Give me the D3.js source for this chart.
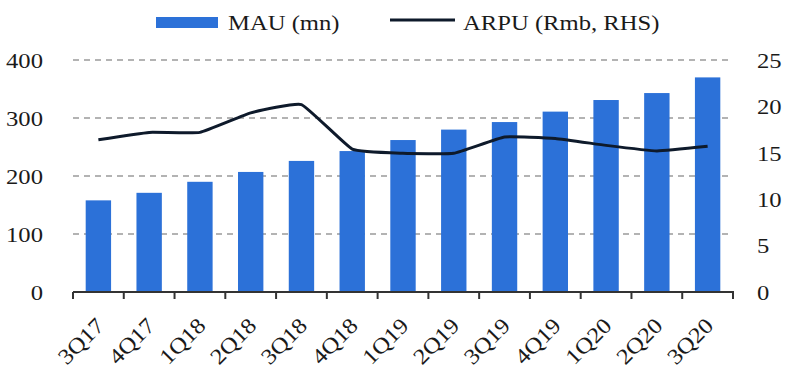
<!DOCTYPE html>
<html><head><meta charset="utf-8">
<script src="https://cdn.jsdelivr.net/npm/d3@7"></script>
<style>body{margin:0;background:#fff}svg{display:block}text{font-family:"Liberation Serif","Times New Roman",serif;fill:#1a1a1a}</style>
</head><body>
<svg id="c" width="800" height="369"></svg>
<script>
const categories = ["3Q17","4Q17","1Q18","2Q18","3Q18","4Q18","1Q19","2Q19","3Q19","4Q19","1Q20","2Q20","3Q20"];
const mau = [158,171,190,207,226,243,262,280,293,311,331,343,370];
const arpu = [16.4,17.2,17.2,19.3,20.2,15.4,14.95,14.95,16.7,16.55,15.8,15.2,15.7];
const leftTicks = [0,100,200,300,400];
const rightTicks = [0,5,10,15,20,25];
const seriesNames = ["MAU (mn)","ARPU (Rmb, RHS)"];

const svg = d3.select("#c");
const x0 = 73, x1 = 733, yTop = 60, yBot = 292;
const x = d3.scaleBand().domain(categories).range([x0,x1]).paddingInner(0.5).paddingOuter(0.25);
const yL = d3.scaleLinear().domain([0,400]).range([yBot,yTop]);
const yR = d3.scaleLinear().domain([0,25]).range([yBot,yTop]);
const blue = "#2c71d8", navy = "#0e1a2b";

// gridlines
svg.append("g").selectAll("line").data(leftTicks.filter(d=>d>0)).join("line")
  .attr("x1",x0).attr("x2",x1).attr("y1",d=>yL(d)).attr("y2",d=>yL(d))
  .attr("stroke","#9a9a9a").attr("stroke-width",1.4).attr("stroke-dasharray","6,5");

// bars
svg.append("g").selectAll("rect").data(categories).join("rect")
  .attr("x",d=>x(d)).attr("width",x.bandwidth())
  .attr("y",(d,i)=>yL(mau[i])).attr("height",(d,i)=>yBot-yL(mau[i]))
  .attr("fill",blue);

// x axis
const xb = d3.scaleLinear().domain([0,categories.length]).range([x0,x1]);
const xa = svg.append("g").attr("transform",`translate(0,${yBot})`);
xa.append("line").attr("x1",x0).attr("x2",x1+1).attr("stroke","#333").attr("stroke-width",2);
xa.selectAll("line.t").data(d3.range(categories.length+1)).join("line").attr("class","t")
  .attr("x1",d=>xb(d)).attr("x2",d=>xb(d)).attr("y1",0).attr("y2",7).attr("stroke","#333").attr("stroke-width",2);
xa.selectAll("text").data(categories).join("text")
  .attr("text-anchor","end").attr("font-size",22)
  .attr("transform",d=>`translate(${x(d)+x.bandwidth()/2+7},${35}) rotate(-45)`)
  .text(d=>d);

// left axis labels
svg.append("g").selectAll("text").data(leftTicks).join("text")
  .attr("x",43).attr("y",d=>yL(d)).attr("dy","0.35em").attr("text-anchor","end").attr("font-size",22)
  .text(d=>d);
// right axis labels
svg.append("g").selectAll("text").data(rightTicks).join("text")
  .attr("x",757).attr("y",d=>yR(d)).attr("dy","0.35em").attr("text-anchor","start").attr("font-size",22)
  .text(d=>d);

// line
const line = d3.line().x((d,i)=>x(categories[i])+x.bandwidth()/2).y(d=>yR(d)).curve(d3.curveCardinal.tension(0.65));
svg.append("path").datum(arpu).attr("d",line).attr("fill","none").attr("stroke",navy).attr("stroke-width",3);

// legend
const lg = svg.append("g");
lg.append("rect").attr("x",156).attr("y",17).attr("width",62).attr("height",11).attr("fill",blue);
lg.append("text").attr("x",228).attr("y",30).attr("font-size",22).text(seriesNames[0]);
lg.append("line").attr("x1",390).attr("x2",455).attr("y1",20).attr("y2",20).attr("stroke",navy).attr("stroke-width",3);
lg.append("text").attr("x",463).attr("y",30).attr("font-size",22).text(seriesNames[1]);

// horizontal stretch of text to match reference
svg.selectAll("text").each(function(){
  const L = this.getComputedTextLength();
  d3.select(this).attr("textLength",L*1.12).attr("lengthAdjust","spacingAndGlyphs");
});
</script>
</body></html>
